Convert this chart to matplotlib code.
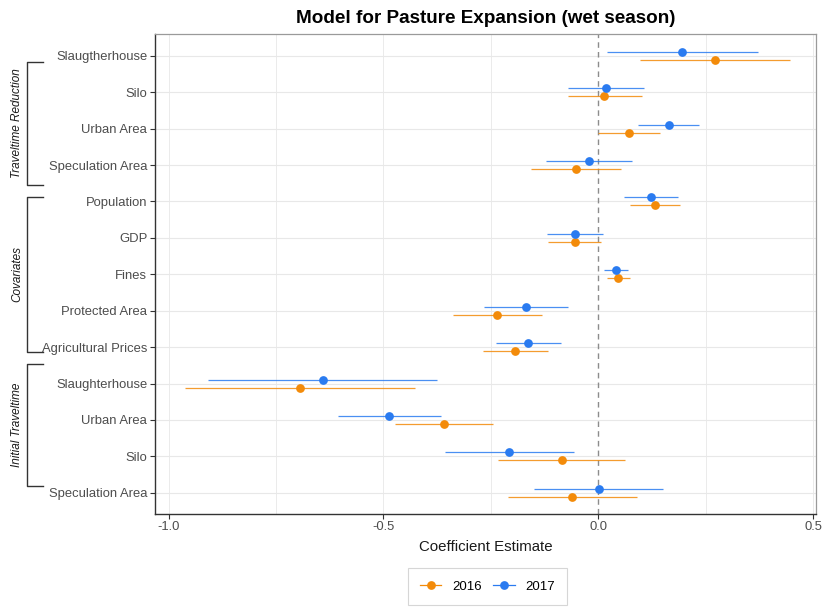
import numpy as np
import matplotlib.pyplot as plt
from matplotlib.lines import Line2D
import matplotlib.transforms as mtransforms

plt.rcParams['font.family'] = ['Liberation Sans', 'DejaVu Sans']

# Coefficient estimates and confidence bounds, top row first
terms = ["Slaugtherhouse", "Silo", "Urban Area", "Speculation Area",
         "Population", "GDP", "Fines", "Protected Area", "Agricultural Prices",
         "Slaughterhouse", "Urban Area", "Silo", "Speculation Area"]

est_2016 = [0.270, 0.014, 0.071, -0.052,
            0.132, -0.055, 0.046, -0.236, -0.193,
            -0.694, -0.359, -0.085, -0.061]
lo_2016 = [0.096, -0.070, -0.002, -0.158,
           0.073, -0.118, 0.021, -0.339, -0.269,
           -0.962, -0.473, -0.233, -0.210]
hi_2016 = [0.445, 0.101, 0.143, 0.053,
           0.190, 0.007, 0.073, -0.132, -0.117,
           -0.427, -0.246, 0.061, 0.089]

est_2017 = [0.194, 0.017, 0.165, -0.023,
            0.122, -0.055, 0.041, -0.169, -0.163,
            -0.641, -0.486, -0.207, 0.001]
lo_2017 = [0.019, -0.070, 0.093, -0.122,
           0.060, -0.120, 0.014, -0.267, -0.238,
           -0.907, -0.605, -0.357, -0.149]
hi_2017 = [0.370, 0.107, 0.235, 0.078,
           0.184, 0.010, 0.068, -0.071, -0.087,
           -0.375, -0.366, -0.056, 0.151]

groups = ["Traveltime Reduction", "Covariates", "Initial Traveltime"]
group_spans = [(11.835, 8.46), (8.13, 3.86), (3.53, 0.18)]

c16 = '#F38B0A'
c17 = '#2A7BF0'

W, H = 826, 607
fig = plt.figure(figsize=(W / 100, H / 100), dpi=100)
ax = fig.add_axes([155 / W, (H - 513.5) / H, (816 - 155) / W, (513.5 - 34) / H])

n = len(terms)
ypos = np.arange(n)[::-1].astype(float)
dodge = 0.11

# grid
for gx in [-1.0, -0.75, -0.5, -0.25, 0.25, 0.5]:
    ax.axvline(gx, color='#ebebeb', lw=0.7, zorder=0)
for yy in ypos:
    ax.axhline(yy, color='#e8e8e8', lw=0.8, zorder=0)
ax.axvline(0, color='#8c8c8c', lw=1.0, ls=(0, (4, 3)), zorder=1)

for est, lo, hi, col, off in [(est_2016, lo_2016, hi_2016, c16, -dodge),
                              (est_2017, lo_2017, hi_2017, c17, dodge)]:
    yy = ypos + off
    ax.hlines(yy, lo, hi, color=col, lw=0.9, alpha=0.85, zorder=2)
    ax.plot(est, yy, 'o', color=col, ms=6.3, mec='none', zorder=3)

ax.set_xlim(-1.0314, 0.506)
ax.set_ylim(-0.57, 12.6)
ax.set_xticks([-1.0, -0.5, 0.0, 0.5])
ax.set_xticklabels(['-1.0', '-0.5', '0.0', '0.5'])
ax.set_yticks(ypos)
ax.set_yticklabels(terms)
ax.tick_params(axis='both', colors='#333333', length=3.5, width=0.8,
               labelsize=9.4, labelcolor='#4d4d4d', pad=2)
ax.set_xlabel('Coefficient Estimate', fontsize=10.8, color='#1a1a1a', labelpad=5)
ax.set_title('Model for Pasture Expansion (wet season)', fontsize=13.6,
             fontweight='bold', color='black', pad=8)

for side in ['left', 'bottom']:
    ax.spines[side].set_color('#333333')
    ax.spines[side].set_linewidth(1.0)
for side in ['top', 'right']:
    ax.spines[side].set_color('#9a9a9a')
    ax.spines[side].set_linewidth(0.9)

# group brackets on the left
trans = mtransforms.blended_transform_factory(fig.transFigure, ax.transData)
xb, xt, xl = 27 / W, 43 / W, 17 / W
for name, (top, bot) in zip(groups, group_spans):
    ax.add_line(Line2D([xt, xb, xb, xt], [top, top, bot, bot], transform=trans,
                       color='#333333', lw=1.0, clip_on=False))
    ax.text(xl, (top + bot) / 2, name, transform=trans, rotation=90,
            ha='center', va='center', fontsize=8.5, style='italic',
            color='#1a1a1a', clip_on=False)

handles = [Line2D([], [], color=c16, marker='o', ms=6.3, mec='none', lw=0.9),
           Line2D([], [], color=c17, marker='o', ms=6.3, mec='none', lw=0.9)]
leg = fig.legend(handles, ['2016', '2017'], loc='center',
                 bbox_to_anchor=(487.5 / W, 1 - 586.7 / H), ncol=2,
                 fontsize=9.5, frameon=True, fancybox=False, handlelength=1.6,
                 handletextpad=0.8, columnspacing=0.9, borderpad=0.95)
leg.get_frame().set_edgecolor('#cccccc')
leg.get_frame().set_linewidth(0.8)

fig.savefig('out.png', dpi=100)
